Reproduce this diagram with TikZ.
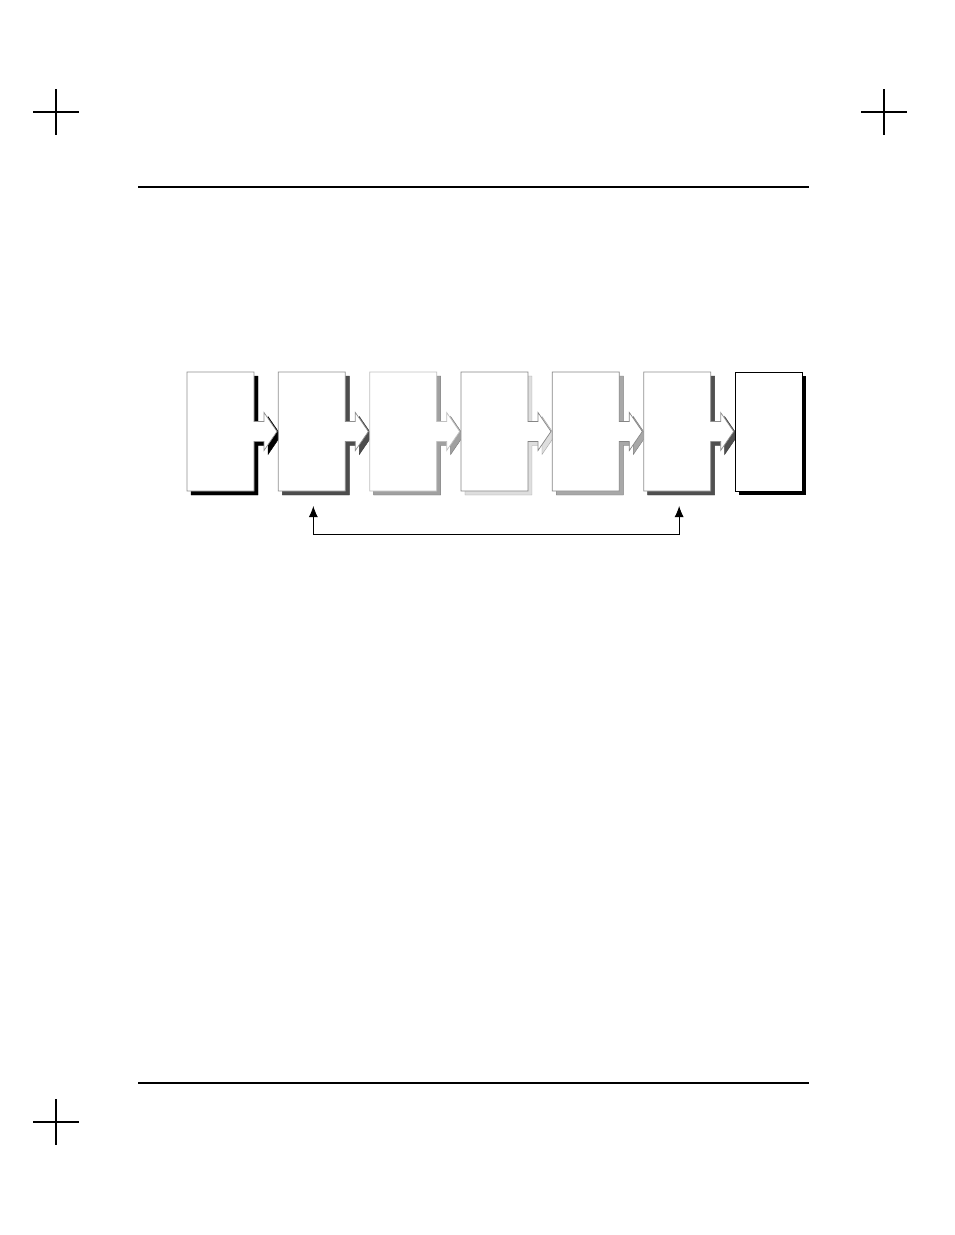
\documentclass[tikz,border=0pt]{standalone}
\usepackage{xcolor}
\usepackage{tikz}
\usetikzlibrary{arrows.meta, positioning, calc}
\definecolor{shadeone}{HTML}{000000}
\definecolor{shadetwo}{HTML}{4D4D4D}
\definecolor{shadethree}{HTML}{A0A0A0}
\definecolor{shadefour}{HTML}{DEDEDE}
\definecolor{shadefive}{HTML}{A8A8A8}
\definecolor{shadesix}{HTML}{505050}
\definecolor{rimgray}{HTML}{8F8F8F}
\definecolor{rimlight}{HTML}{C0C0C0}
\definecolor{rimmid}{HTML}{858585}

% outline of a stage box with its notch arrow, #1 node, #2 offset
\newcommand{\stageoutline}[2]{%
  ($(#1.north west)+#2$) -- ($(#1.north east)+#2$)
  -- ($(#1.east)+#2+(0,-10)$) -- ($(#1.east)+#2+(10,-10)$)
  -- ($(#1.east)+#2+(10,-19)$) -- ($(#1.east)+#2+(23,0)$)
  -- ($(#1.east)+#2+(10,19)$) -- ($(#1.east)+#2+(10,10)$)
  -- ($(#1.east)+#2+(0,10)$) -- ($(#1.south east)+#2$)
  -- ($(#1.south west)+#2$) -- cycle}

\tikzset{
  stagebox/.style={minimum width=67pt, minimum height=119pt, inner sep=0pt, outer sep=0pt},
  cropmark/.style={line width=1.2pt},
  pagerule/.style={line width=1.6pt}
}

\begin{document}
\begin{tikzpicture}[x=1pt,y=-1pt]
  \useasboundingbox (0,0) rectangle (954,1235);
  % crop marks
  \draw[cropmark] (33,112) -- (79,112) (56,89) -- (56,135);
  \draw[cropmark] (861,112) -- (907,112) (884,89) -- (884,135);
  \draw[cropmark] (33,1122) -- (79,1122) (56,1099) -- (56,1145);
  % header and footer rules
  \draw[pagerule] (138,187) -- (809,187);
  \draw[pagerule] (138,1083) -- (809,1083);
  % stages with notch arrows
  \foreach \i/\sh/\rim in {1/shadeone/rimgray, 2/shadetwo/rimgray, 3/shadethree/rimlight,
                           4/shadefour/rimmid, 5/shadefive/rimmid, 6/shadesix/rimgray} {
    \node (s\i) [stagebox] at ({220.5+91.33*(\i-1)},431.5) {};
    \filldraw[fill=\sh, draw=\sh!75!black, line width=0.4pt] \stageoutline{s\i}{(4,4)};
    \filldraw[fill=white, draw=\rim, line width=0.7pt] \stageoutline{s\i}{(0,0)};
  }
  % last stage
  \node (s7) [stagebox] at (768.5,431.5) {};
  \fill[black] ($(s7.north west)+(4,4)$) rectangle ($(s7.south east)+(4,4)$);
  \draw[fill=white, line width=0.8pt] (s7.north west) rectangle (s7.south east);
  % feedback loop
  \draw[line width=0.8pt, {Latex[length=11pt,width=9pt]}-{Latex[length=11pt,width=9pt]}]
    ([xshift=1.5pt,yshift=-15pt]s2.south) -- ++(0,28) -| ([xshift=2pt,yshift=-15pt]s6.south);
\end{tikzpicture}
\end{document}
